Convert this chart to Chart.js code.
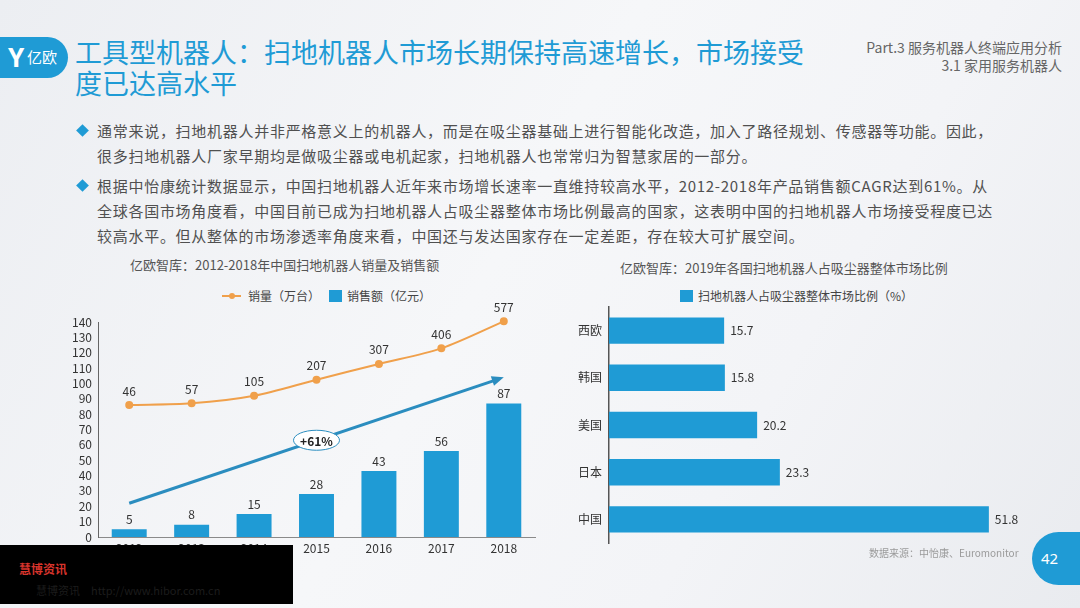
<!DOCTYPE html>
<html>
<head>
<meta charset="utf-8">
<script src="https://cdn.jsdelivr.net/npm/chart.js@4.4.1/dist/chart.umd.min.js"></script>
<style>
  html, body { margin: 0; padding: 0; }
  body {
    width: 1080px; height: 608px; overflow: hidden; position: relative;
    font-family: "Noto Sans CJK SC", "Noto Sans", sans-serif;
    background: linear-gradient(120deg, #eceef2 0%, #f6f7f9 45%, #f3f4f7 70%, #e9ebef 100%);
  }
  .abs { position: absolute; white-space: nowrap; }
  #logo {
    left: 0; top: 37px; width: 68px; height: 41px; background: #1f9bd5;
    border-radius: 0 21px 21px 0; color: #fff;
  }
  #logo .y { position: absolute; left: 8px; top: 3px; font: bold 26px/34px "Noto Sans"; }
  #logo .t { position: absolute; left: 27px; top: 10px; font: 15px/20px "Noto Sans CJK SC"; }
  #title { left: 75px; top: 36px; color: #1f9bd5; font-size: 27px; line-height: 31px; }
  #part { right: 18px; top: 38px; color: #666; font-size: 14px; line-height: 18px; text-align: right; }
  .bullet { left: 97px; color: #505050; font-size: 15px; line-height: 25px; letter-spacing: 0.72px; }
  .dia { width: 9px; height: 9px; background: #1f9bd5; transform: rotate(45deg); }
  .ctitle { color: #555; font-size: 13px; line-height: 18px; }
  .leg { color: #444; font-size: 12px; line-height: 16px; }
  #footer { left: 869px; top: 545px; color: #9a9a9a; font-size: 10px; line-height: 16px; }
  #page {
    left: 1032px; top: 532px; width: 48px; height: 53px; background: #1f9bd5;
    border-radius: 27px 0 0 27px; color: #fff; font: 15px/53px "Noto Sans"; text-indent: 9px;
  }
  #mask { left: 0; top: 545px; width: 293px; height: 59px; background: #000; }
  #mask .r { position: absolute; left: 19px; top: 16px; color: #d8342c; font-weight: bold; font-size: 12px; line-height: 16px; }
  #mask .g { position: absolute; left: 36px; top: 38px; color: #1c1c1c; font-size: 11px; line-height: 14px; }
  canvas { position: absolute; }
</style>
</head>
<body>
<div id="logo" class="abs"><span class="y">Y</span><span class="t">亿欧</span></div>
<div id="title" class="abs">工具型机器人：扫地机器人市场长期保持高速增长，市场接受<br>度已达高水平</div>
<div id="part" class="abs">Part.3 服务机器人终端应用分析<br>3.1 家用服务机器人</div>

<div class="abs dia" style="left:78px;top:126px"></div>
<div class="abs bullet" style="top:118px">通常来说，扫地机器人并非严格意义上的机器人，而是在吸尘器基础上进行智能化改造，加入了路径规划、传感器等功能。因此，<br>很多扫地机器人厂家早期均是做吸尘器或电机起家，扫地机器人也常常归为智慧家居的一部分。</div>
<div class="abs dia" style="left:78px;top:181px"></div>
<div class="abs bullet" style="top:173px">根据中怡康统计数据显示，中国扫地机器人近年来市场增长速率一直维持较高水平，2012-2018年产品销售额CAGR达到61%。从<br>全球各国市场角度看，中国目前已成为扫地机器人占吸尘器整体市场比例最高的国家，这表明中国的扫地机器人市场接受程度已达<br>较高水平。但从整体的市场渗透率角度来看，中国还与发达国家存在一定差距，存在较大可扩展空间。</div>

<div class="abs ctitle" style="left:130px;top:256px">亿欧智库：2012-2018年中国扫地机器人销量及销售额</div>
<div class="abs" style="left:222px;top:295px;width:19px;height:2px;background:#f0a04b"></div>
<div class="abs" style="left:229px;top:293px;width:6px;height:6px;border-radius:3px;background:#f0a04b"></div>
<div class="abs leg" style="left:248px;top:288px">销量（万台）</div>
<div class="abs" style="left:329px;top:290px;width:13px;height:12px;background:#1f9bd5"></div>
<div class="abs leg" style="left:347px;top:288px">销售额（亿元）</div>

<div class="abs ctitle" style="left:620px;top:259px">亿欧智库：2019年各国扫地机器人占吸尘器整体市场比例</div>
<div class="abs" style="left:680px;top:290px;width:13px;height:12px;background:#1f9bd5"></div>
<div class="abs leg" style="left:698px;top:288px">扫地机器人占吸尘器整体市场比例（%）</div>

<canvas id="left" width="490" height="280" style="left:60px;top:280px"></canvas>
<canvas id="right" width="500" height="245" style="left:560px;top:305px"></canvas>

<div id="footer" class="abs">数据来源：中怡康、Euromonitor</div>
<div id="page" class="abs">42</div>
<div id="mask" class="abs"><span class="r">慧博资讯</span><span class="g">慧博资讯　http://www.hibor.com.cn</span></div>

<script>
// data
const years = ['2012', '2013', '2014', '2015', '2016', '2017', '2018'];
const salesVolume = [46, 57, 105, 207, 307, 406, 577];   // 万台, orange line
const salesAmount = [5, 8, 15, 28, 43, 56, 87];          // 亿元, blue bars
const cagrFrom = [0, 22];    // arrow start (category index, 亿元 value)
const cagrTo = [6, 104];     // arrow end
const cagrText = '+61%';

const countries = ['西欧', '韩国', '美国', '日本', '中国'];
const shareOfVacuum = [15.7, 15.8, 20.2, 23.3, 51.8];    // %

const BLUE = '#1f9bd5';
const ORANGE = '#f0a04b';
const FONT = '"Noto Sans CJK SC", "Noto Sans", sans-serif';

// writes each value next to its bar / point
const valueLabels = {
  id: 'valueLabels',
  afterDatasetsDraw(chart) {
    const ctx = chart.ctx;
    const horizontal = chart.options.indexAxis === 'y';
    ctx.save();
    ctx.font = '12px ' + FONT;
    ctx.fillStyle = '#333';
    chart.data.datasets.forEach((ds, i) => {
      chart.getDatasetMeta(i).data.forEach((el, j) => {
        const v = ds.data[j];
        if (horizontal) {
          ctx.textAlign = 'left'; ctx.textBaseline = 'middle';
          ctx.fillText(v, el.x + 6, el.y);
        } else {
          ctx.textAlign = 'center'; ctx.textBaseline = 'bottom';
          ctx.fillText(v, el.x, el.y - (ds.type === 'line' ? 8 : 4));
        }
      });
    });
    ctx.restore();
  }
};

// growth arrow with the CAGR bubble, placed in data coordinates
const cagrArrow = {
  id: 'cagrArrow',
  beforeDatasetsDraw(chart) {
    const x = chart.scales.x, y = chart.scales.y, ctx = chart.ctx;
    const x0 = x.getPixelForValue(cagrFrom[0]), y0 = y.getPixelForValue(cagrFrom[1]);
    const x1 = x.getPixelForValue(cagrTo[0]), y1 = y.getPixelForValue(cagrTo[1]);
    const a = Math.atan2(y1 - y0, x1 - x0);
    ctx.save();
    ctx.strokeStyle = '#2b8dbf'; ctx.fillStyle = '#2b8dbf'; ctx.lineWidth = 3;
    ctx.beginPath(); ctx.moveTo(x0, y0);
    ctx.lineTo(x1 - 8 * Math.cos(a), y1 - 8 * Math.sin(a)); ctx.stroke();
    ctx.beginPath();
    ctx.moveTo(x1, y1);
    ctx.lineTo(x1 - 12 * Math.cos(a) + 5 * Math.sin(a), y1 - 12 * Math.sin(a) - 5 * Math.cos(a));
    ctx.lineTo(x1 - 12 * Math.cos(a) - 5 * Math.sin(a), y1 - 12 * Math.sin(a) + 5 * Math.cos(a));
    ctx.closePath(); ctx.fill();
    const mx = (x0 + x1) / 2, my = (y0 + y1) / 2;
    ctx.beginPath(); ctx.ellipse(mx, my, 23, 10, 0, 0, Math.PI * 2);
    ctx.fillStyle = '#fff'; ctx.fill();
    ctx.lineWidth = 1; ctx.strokeStyle = '#2b8dbf'; ctx.stroke();
    ctx.fillStyle = '#222'; ctx.font = 'bold 12px ' + FONT;
    ctx.textAlign = 'center'; ctx.textBaseline = 'middle';
    ctx.fillText(cagrText, mx, my + 1);
    ctx.restore();
  }
};

const tickFont = { family: FONT, size: 12 };

new Chart(document.getElementById('left'), {
  data: {
    labels: years,
    datasets: [
      { type: 'line', label: '销量（万台）', data: salesVolume, yAxisID: 'y1',
        borderColor: ORANGE, backgroundColor: ORANGE, borderWidth: 2,
        pointRadius: 3, tension: 0.3, order: 0, clip: false },
      { type: 'bar', label: '销售额（亿元）', data: salesAmount, yAxisID: 'y',
        backgroundColor: BLUE, barPercentage: 0.56, categoryPercentage: 1, order: 1 }
    ]
  },
  options: {
    responsive: false, animation: false,
    layout: { padding: { top: 42, right: 15, left: 0, bottom: 0 } },
    plugins: { legend: { display: false }, tooltip: { enabled: false } },
    scales: {
      x: { grid: { display: false, drawTicks: false }, border: { color: '#8a8a8a' },
           ticks: { font: tickFont, color: '#333', padding: 4 },
           afterFit(s) { s.height = 23; } },
      y: { min: 0, max: 140, grid: { display: false, drawTicks: false },
           border: { color: '#666' },
           ticks: { stepSize: 10, autoSkip: false, font: tickFont, color: '#333', padding: 6 },
           afterFit(s) { s.width = 38; } },
      y1: { display: false, min: -791, max: 573 }
    }
  },
  plugins: [cagrArrow, valueLabels]
});

new Chart(document.getElementById('right'), {
  type: 'bar',
  data: {
    labels: countries,
    datasets: [{ label: '扫地机器人占吸尘器整体市场比例（%）', data: shareOfVacuum,
      backgroundColor: BLUE, barPercentage: 0.56, categoryPercentage: 1 }]
  },
  options: {
    indexAxis: 'y', responsive: false, animation: false,
    layout: { padding: { top: 2, right: 11, left: 0, bottom: 7 } },
    plugins: { legend: { display: false }, tooltip: { enabled: false } },
    scales: {
      x: { display: false, min: 0, max: 60 },
      y: { grid: { display: false, drawTicks: false }, border: { color: '#555', width: 1.5 },
           ticks: { font: tickFont, color: '#333', padding: 7 },
           afterFit(s) { s.width = 49; s.paddingTop = 0; s.paddingBottom = 0; } }
    }
  },
  plugins: [valueLabels]
});
</script>
</body>
</html>
